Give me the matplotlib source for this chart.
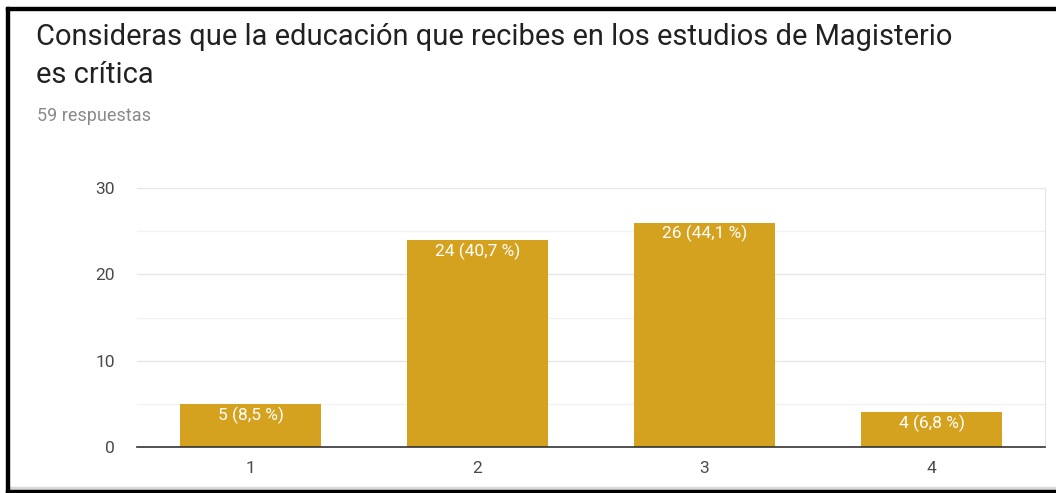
import matplotlib
matplotlib.use('Agg')
import matplotlib.pyplot as plt
from matplotlib.patches import Rectangle
from matplotlib.ticker import MultipleLocator

plt.rcParams['font.family'] = ['Roboto', 'DejaVu Sans']

TITLE    = "Consideras que la educación que recibes en los estudios de Magisterio\nes crítica"
SUBTITLE = "59 respuestas"

categories = ['1', '2', '3', '4']
counts     = [5, 24, 26, 4]
labels     = ['5 (8,5 %)', '24 (40,7 %)', '26 (44,1 %)', '4 (6,8 %)']

BAR_COLOR = '#D5A21F'
W, H = 1056, 493

fig = plt.figure(figsize=(W / 100, H / 100), dpi=100)
fig.patch.set_facecolor('white')

# frame of the screenshot
fig.patches.append(Rectangle((6 / W, 0), 3 / W, 1 - 7 / H, transform=fig.transFigure,
                             color='black', zorder=10))
fig.patches.append(Rectangle((6 / W, 1 - 10 / H), 1 - 6 / W, 3 / H, transform=fig.transFigure,
                             color='black', zorder=10))
fig.patches.append(Rectangle((6 / W, 0), 1 - 6 / W, 3 / H, transform=fig.transFigure,
                             color='black', zorder=10))
fig.patches.append(Rectangle((9 / W, 3 / H), 1 - 9 / W, 3 / H, transform=fig.transFigure,
                             color='#d9d9d9', zorder=9))

line1, line2 = TITLE.split('\n')
fig.text(36 / W, 1 - 37 / H, line1, fontsize=20.9, color='#212121',
         va='center', ha='left')
fig.text(36 / W, 1 - 75 / H, line2, fontsize=20.9, color='#212121',
         va='center', ha='left')
fig.text(37 / W, 1 - 116 / H, SUBTITLE, fontsize=13, color='#8a8a8a', va='center',
         ha='left')

left, right = 137 / W, 1045 / W
bottom, top = 1 - 447 / H, 1 - 188 / H
ax = fig.add_axes([left, bottom, right - left, top - bottom])

x = list(range(1, len(categories) + 1))
bars = ax.bar(x, counts, width=0.62, color=BAR_COLOR, zorder=3)
for b, lab in zip(bars, labels):
    ax.text(b.get_x() + b.get_width() / 2, b.get_height() - 0.3, lab,
            ha='center', va='top', color='white', fontsize=12.5, zorder=4)

ax.set_xlim(0.5, 4.5)
ax.set_ylim(0, 30)
ax.yaxis.set_major_locator(MultipleLocator(10))
ax.yaxis.set_minor_locator(MultipleLocator(5))
ax.grid(axis='y', which='major', color='#e6e6e6', lw=1, zorder=0)
ax.grid(axis='y', which='minor', color='#f2f2f2', lw=1, zorder=0)
ax.set_xticks(x)
ax.set_xticklabels(categories)
ax.tick_params(axis='both', which='both', length=0, labelsize=12.5, colors='#4a4a4a')
ax.tick_params(axis='y', pad=16)
ax.tick_params(axis='x', pad=10)
for s in ['left', 'top']:
    ax.spines[s].set_visible(False)
ax.spines['right'].set_color('#e6e6e6')
ax.spines['bottom'].set_color('#333333')
ax.spines['bottom'].set_linewidth(1.2)
ax.spines['bottom'].set_zorder(5)

fig.savefig('out.png', dpi=100)
